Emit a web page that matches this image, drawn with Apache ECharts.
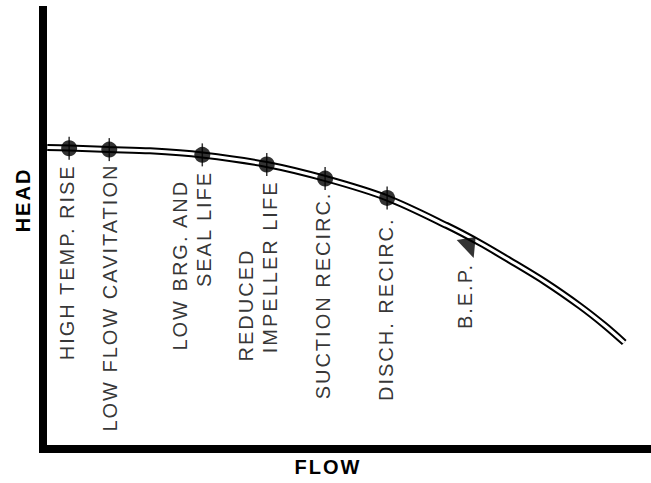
<!DOCTYPE html>
<html>
<head>
<meta charset="utf-8">
<script src="https://cdn.jsdelivr.net/npm/echarts@6/dist/echarts.min.js"></script>
<style>
  html, body { margin: 0; padding: 0; background: #fff; }
  #chart { width: 651px; height: 483px; }
  #chart text { letter-spacing: 2px; }
</style>
</head>
<body>
<div id="chart"></div>
<script>
// pump head curve (both axes 0..100)
const curveFlow = [0.7, 4.3, 10.9, 17.6, 26.2, 36.8, 46.4, 56.6, 66.4, 71.9, 76.8, 82.6, 88.3, 92.4, 95.6]
const curveHead = [68.7, 68.56, 68.22, 67.93, 66.97, 64.81, 61.62, 57.18, 50.91, 46.92, 42.94, 38.04, 32.57, 28.13, 24.26]

// marked operating points
const pointFlow = [4.3, 10.9, 26.2, 36.8, 46.4, 56.6]
const pointHead = [68.5, 68.2, 67.0, 64.8, 61.6, 57.2]
const pointLabels = [
  ['HIGH TEMP. RISE'],
  ['LOW FLOW CAVITATION'],
  ['LOW BRG. AND', 'SEAL LIFE'],
  ['REDUCED', 'IMPELLER LIFE'],
  ['SUCTION RECIRC.'],
  ['DISCH. RECIRC.'],
]

const bepFlow = 69.6
const bepHead = 45.9
const bepLabel = 'B.E.P.'

// label placement: [x shift, gap below dot], and per-line pull back along the text
const labelShift = [[-2, 8], [1, 6], [-10.5, 8], [-9, 8], [-2, 5], [-1, 11.5]]
const linePad = [[0], [0], [9, 0], [68, 0], [0], [0]]

const FONT = 'Liberation Sans, Arial, Helvetica, sans-serif'
const txt = { fontFamily: FONT, fontSize: 20, color: '#000', lineHeight: 24 }
const DOT = 16

const curve = curveFlow.map((f, i) => [f, curveHead[i]])

const dots = pointFlow.map((f, i) => {
  const rich = {}
  pointLabels[i].forEach((t, j) => {
    rich['l' + j] = { ...txt, padding: [0, linePad[i][j] || 0, 0, 0] }
  })
  return {
    value: [f, pointHead[i]],
    label: {
      position: [DOT / 2 + labelShift[i][0], DOT + labelShift[i][1]],
      formatter: pointLabels[i].map((t, j) => `{l${j}|${t}}`).join('\n'),
      rich,
    },
  }
})

const chart = echarts.init(document.getElementById('chart'), null, { renderer: 'svg' })

const axisBase = {
  type: 'value',
  min: 0,
  max: 100,
  axisLine: { show: true, lineStyle: { color: '#000', width: 8, cap: 'square' } },
  axisTick: { show: false },
  axisLabel: { show: false },
  splitLine: { show: false },
  nameLocation: 'middle',
}

chart.setOption({
  animation: false,
  backgroundColor: '#fff',
  grid: { left: 43, right: 0, top: 10, bottom: 34, outerBoundsMode: 'none' },
  xAxis: {
    ...axisBase,
    name: 'FLOW',
    nameGap: 8,
    nameTextStyle: { fontFamily: FONT, fontSize: 20, fontWeight: 'bold', color: '#000', padding: [0, 38, 0, 0] },
  },
  yAxis: {
    ...axisBase,
    name: 'HEAD',
    nameGap: 10,
    nameRotate: 90,
    nameTextStyle: { fontFamily: FONT, fontSize: 20, fontWeight: 'bold', color: '#000', padding: [0, 0, 0, 59] },
  },
  series: [
    {
      type: 'line', data: curve, smooth: 0.3, showSymbol: false, silent: true,
      lineStyle: { color: '#000', width: 7 }, z: 2,
    },
    {
      type: 'line', data: curve, smooth: 0.3, showSymbol: false, silent: true,
      lineStyle: { color: '#fff', width: 3 }, z: 3,
    },
    {
      type: 'scatter', data: pointFlow.map((f, i) => [f, pointHead[i]]), silent: true,
      symbol: 'rect', symbolSize: [1.5, 23], itemStyle: { color: '#000' }, z: 4,
    },
    {
      type: 'scatter', data: dots, symbol: 'circle', symbolSize: DOT,
      itemStyle: { color: '#000' }, z: 5,
      label: { show: true, rotate: 90, align: 'right', verticalAlign: 'middle', ...txt },
    },
    {
      type: 'scatter', data: [[bepFlow, bepHead]], z: 6,
      symbol: 'path://M0,3 L19,0 L17,21 Z', symbolSize: [19, 21],
      itemStyle: { color: '#000' },
      label: {
        show: true, formatter: bepLabel, rotate: 90, align: 'right', verticalAlign: 'middle',
        position: [8.5, 26], ...txt,
      },
    },
  ],
})
</script>
</body>
</html>
